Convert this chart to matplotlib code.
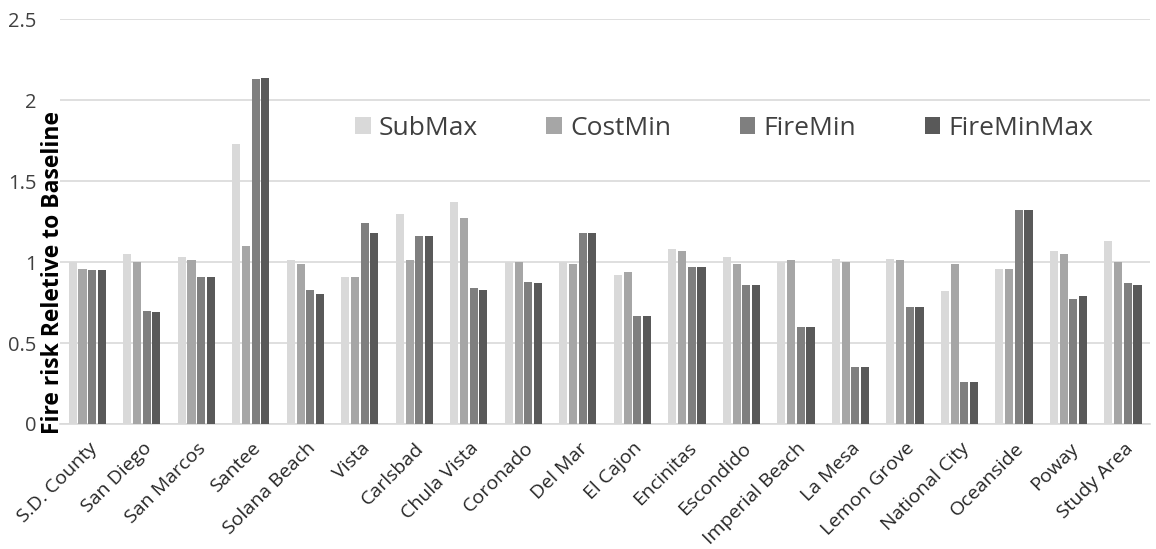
import numpy as np
import matplotlib
matplotlib.use("Agg")
import matplotlib.pyplot as plt
import matplotlib.transforms as mtransforms

plt.rcParams['font.family'] = ['Open Sans', 'DejaVu Sans']

cities = ["S.D. County", "San Diego", "San Marcos", "Santee", "Solana Beach", "Vista",
          "Carlsbad", "Chula Vista", "Coronado", "Del Mar", "El Cajon", "Encinitas",
          "Escondido", "Imperial Beach", "La Mesa", "Lemon Grove", "National City",
          "Oceanside", "Poway", "Study Area"]

submax = [1.00, 1.05, 1.03, 1.73, 1.01, 0.91, 1.30, 1.37, 1.00, 1.00,
          0.92, 1.08, 1.03, 1.00, 1.02, 1.02, 0.82, 0.96, 1.07, 1.13]
costmin = [0.96, 1.00, 1.01, 1.10, 0.99, 0.91, 1.01, 1.27, 1.00, 0.99,
           0.94, 1.07, 0.99, 1.01, 1.00, 1.01, 0.99, 0.96, 1.05, 1.00]
firemin = [0.95, 0.70, 0.91, 2.13, 0.83, 1.24, 1.16, 0.84, 0.88, 1.18,
           0.67, 0.97, 0.86, 0.60, 0.35, 0.72, 0.26, 1.32, 0.77, 0.87]
fireminmax = [0.95, 0.69, 0.91, 2.14, 0.80, 1.18, 1.16, 0.83, 0.87, 1.18,
              0.67, 0.97, 0.86, 0.60, 0.35, 0.72, 0.26, 1.32, 0.79, 0.86]

series = [("SubMax", submax, "#d9d9d9"),
          ("CostMin", costmin, "#a6a6a6"),
          ("FireMin", firemin, "#7f7f7f"),
          ("FireMinMax", fireminmax, "#595959")]

fig = plt.figure(figsize=(11.56, 5.49), dpi=100)
ax = fig.add_axes([0.052, 0.2277, 0.943, 0.7373])

x = np.arange(len(cities))
slot = 0.178
bw = 0.148
for k, (name, vals, col) in enumerate(series):
    ax.bar(x + (k - 1.5) * slot, vals, width=bw, color=col, label=name, zorder=3)

ax.set_xlim(-0.5, len(cities) - 0.5)
ax.set_ylim(0, 2.5)
ax.set_yticks([0, 0.5, 1, 1.5, 2, 2.5])
ax.set_yticklabels(["0", "0.5", "1", "1.5", "2", "2.5"], fontsize=14.5, color="#404040")
ax.yaxis.grid(True, color="#d9d9d9", linewidth=1.2, zorder=0)
ax.set_axisbelow(True)
for s in ["top", "right", "left"]:
    ax.spines[s].set_visible(False)
ax.spines["bottom"].set_color("#d9d9d9")
ax.spines["bottom"].set_linewidth(1.2)
ax.tick_params(axis="both", length=0)
ax.tick_params(axis="y", pad=17)

ax.set_xticks(x)
ax.set_xticklabels(cities, rotation=45, ha="right", va="center",
                   rotation_mode="anchor", fontsize=14, color="#262626")
ax.tick_params(axis="x", pad=13)
shift = mtransforms.ScaledTranslation(0.07, -0.035, fig.dpi_scale_trans)
for lbl in ax.get_xticklabels():
    lbl.set_transform(lbl.get_transform() + shift)

fig.text(0.046, 0.504, "Fire risk Reletive to Baseline", rotation=90,
         ha="center", va="center", fontsize=16.5, fontweight="bold", color="black")

leg = ax.legend(loc="center", bbox_to_anchor=(0.609, 0.731), ncol=4, frameon=False,
                fontsize=19, handlelength=0.6, handleheight=0.6, handletextpad=0.3,
                columnspacing=2.6, labelcolor="#404040")

fig.savefig("out.png", dpi=100)
